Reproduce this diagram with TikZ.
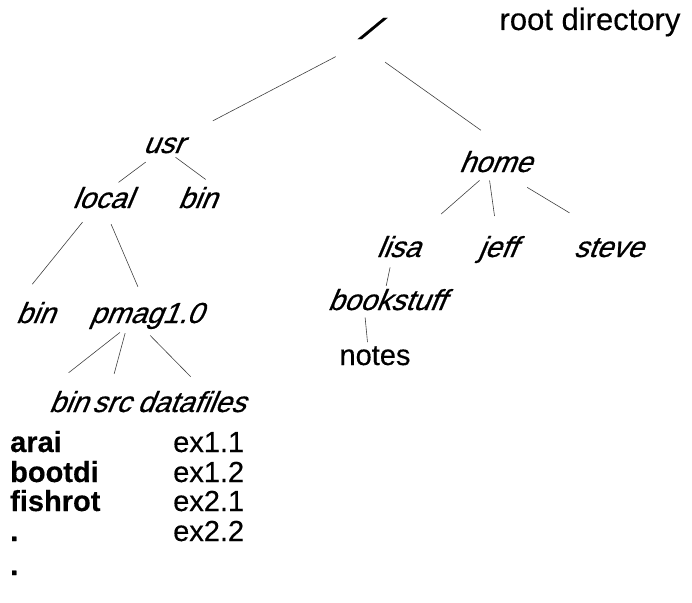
\documentclass[tikz,border=0pt]{standalone}
\usepackage{fontspec}
\setmainfont{Liberation Sans}[FakeBold=0.4]
\newfontfamily\dirfont{Liberation Sans}[FakeSlant=0.42,FakeBold=0.6]
\usepackage{tikz}

\begin{document}
\begin{tikzpicture}[x=1pt,y=-1pt,
  dir/.style={font=\dirfont\fontsize{29}{30}\selectfont,anchor=base,inner sep=2pt},
  txt/.style={font=\fontsize{29}{30}\selectfont,anchor=base,inner sep=2pt},
  file/.style={txt,anchor=base west},
  link/.style 2 args={draw=black!75,line width=0.6pt,shorten <=#1,shorten >=#2}]
  \useasboundingbox (0,0) rectangle (692,602);

  \node[dir,anchor=center] (root) at (365,28.5) {\scalebox{1.75}[1]{/}};
  \node[txt,font=\fontsize{31}{32}\selectfont] (rootdir) at (590,30) {root directory};

  \node[dir] (usr)   at (163,153) {usr};
  \node[dir] (ubin)  at (197,208) {bin};
  \node[dir] (local) at (102,208) {local};
  \node[dir] (lbin)  at (35,323)  {bin};
  \node[dir] (pmag)  at (146,323) {pmag1.0};
  \node[dir] (pbin)  at (68,412)  {bin};
  \node[dir] (psrc)  at (111,412) {src};
  \node[dir] (pdata) at (191,412) {datafiles};

  \node[dir] (home)  at (495,172) {home};
  \node[dir] (lisa)  at (398,257) {lisa};
  \node[dir] (jeff)  at (497,257) {jeff};
  \node[dir] (steve) at (608,257) {steve};
  \node[dir] (books) at (386,310) {bookstuff};
  \node[txt] (notes) at (375,365) {notes};

  % files in datafiles
  \node[file,font=\fontsize{29}{30}\selectfont\bfseries] (arai)    at (8,452) {arai};
  \node[file,font=\fontsize{29}{30}\selectfont\bfseries] (bootdi)  at (8,482) {bootdi};
  \node[file,font=\fontsize{29}{30}\selectfont\bfseries] (fishrot) at (8,511) {fishrot};
  \node[file,font=\fontsize{29}{30}\selectfont\bfseries] (dota)    at (8,541) {.};
  \node[file,font=\fontsize{29}{30}\selectfont\bfseries] (dotb)    at (8,575) {.};
  \node[file] (ex11) at (171,452) {ex1.1};
  \node[file] (ex12) at (171,482) {ex1.2};
  \node[file] (ex21) at (171,511) {ex2.1};
  \node[file] (ex22) at (171,541) {ex2.2};

  \path (root.south) edge[link={33pt}{31pt}] (usr.north east)
        (root.south west) edge[link={36pt}{32pt}] (home.47)
        (usr.-130) edge[link={11pt}{4pt}] (local.44)
        (usr.-45) edge[link={3pt}{9pt}] (ubin.39)
        (local.-128) edge[link={15pt}{20pt}] (lbin.140)
        (local.-76) edge[link={15pt}{15pt}] (pmag.98)
        (pmag.-148) edge[link={2pt}{26pt}] (pbin.147)
        (pmag.-143) edge[link={2pt}{21pt}] (psrc.103)
        (pmag.south) edge[link={6pt}{17pt}] (pdata.48)
        (home.-124) edge[link={9pt}{30pt}] (lisa.32)
        (home.-116) edge[link={6pt}{18pt}] (jeff.north)
        (home.-50) edge[link={25pt}{45pt}] (steve.north)
        (lisa.-116) edge[link={8pt}{1pt}] (books.north)
        (books.-149) edge[link={5pt}{2pt}] (notes.122);
\end{tikzpicture}
\end{document}
